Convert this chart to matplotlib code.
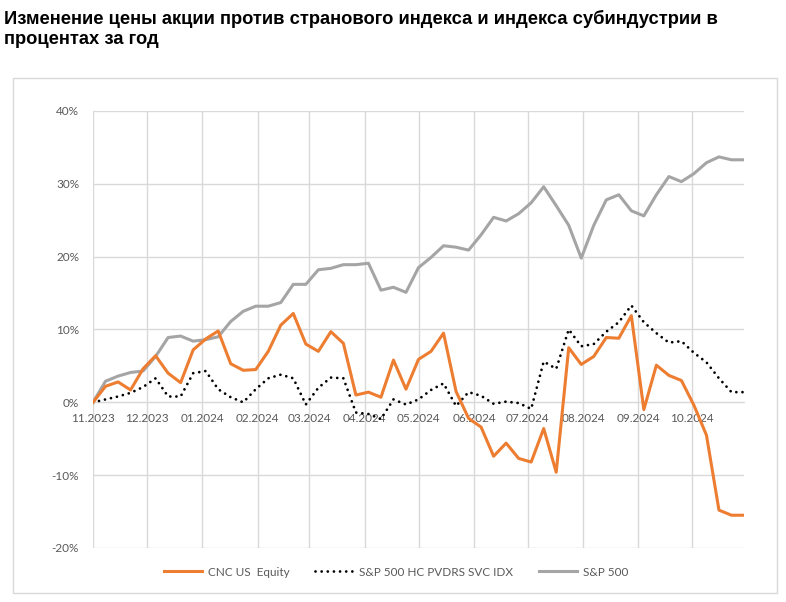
import numpy as np
import pandas as pd
import matplotlib
matplotlib.use("Agg")
import matplotlib.pyplot as plt
import matplotlib.dates as mdates
from matplotlib.patches import Rectangle

# weekly observations, % change since start
dates = pd.date_range("2023-11-01", periods=53, freq="7D")

cnc = [0, 2.2, 2.8, 1.7, 4.6, 6.4, 4.0, 2.7, 7.2, 8.7,
       9.8, 5.3, 4.4, 4.5, 7.0, 10.6, 12.2, 8.0, 7.0, 9.7,
       8.1, 1.0, 1.4, 0.7, 5.8, 1.8, 5.9, 7.0, 9.5, 1.5,
       -2.2, -3.4, -7.4, -5.6, -7.7, -8.2, -3.6, -9.6, 7.5, 5.2,
       6.3, 8.9, 8.8, 11.9, -1.0, 5.1, 3.7, 3.0, -0.4, -4.5,
       -14.8, -15.5, -15.5]

hc_idx = [0, 0.4, 0.8, 1.3, 2.1, 3.3, 0.8, 0.8, 4.0, 4.3,
          1.8, 0.7, 0.0, 1.8, 3.3, 3.8, 3.3, -0.3, 2.0, 3.4,
          3.3, -1.4, -1.6, -2.3, 0.4, -0.3, 0.4, 1.7, 2.6, -0.5,
          1.4, 0.9, -0.2, 0.1, -0.1, -0.9, 5.6, 4.6, 10.0, 7.7,
          8.0, 9.7, 11.0, 13.3, 11.0, 9.5, 8.2, 8.4, 6.8, 5.5,
          3.3, 1.4, 1.4]

spx = [0, 2.9, 3.6, 4.1, 4.3, 6.3, 8.9, 9.1, 8.4, 8.6,
       9.0, 11.1, 12.5, 13.2, 13.2, 13.7, 16.2, 16.2, 18.2, 18.4,
       18.9, 18.9, 19.1, 15.4, 15.8, 15.1, 18.5, 19.9, 21.5, 21.3,
       20.9, 23.0, 25.4, 24.9, 25.9, 27.4, 29.6, 27.0, 24.3, 19.8,
       24.3, 27.8, 28.5, 26.3, 25.6, 28.5, 31.0, 30.3, 31.4, 32.9,
       33.7, 33.3, 33.3]

labels = ["CNC US  Equity", "S&P 500 HC PVDRS SVC IDX", "S&P 500"]
title = ("Изменение цены акции против странового индекса и индекса субиндустрии в\n"
         "процентах за год")

W, H = 786, 602
fig = plt.figure(figsize=(W / 100, H / 100), dpi=100)

# chart frame
fig.patches.append(Rectangle((13 / W, 1 - 593 / H), (777 - 13) / W, (593 - 78) / H,
                             transform=fig.transFigure, fill=False,
                             edgecolor="#d9d9d9", linewidth=1))

fig.text(4 / W, 1 - 10 / H, title, ha="left", va="top",
         fontsize=13.2, fontweight="bold", family="Liberation Sans",
         linespacing=1.2)

ax = fig.add_axes([93 / W, 1 - 548 / H, (744 - 93) / W, (548 - 111) / H])

ax.plot(dates, spx, color="#a5a5a5", lw=2.2, label=labels[2], zorder=3)
ax.plot(dates, hc_idx, color="black", lw=2.0, linestyle=(0, (0.01, 2.2)),
        dash_capstyle="round", label=labels[1], zorder=4)
ax.plot(dates, cnc, color="#ed7d31", lw=2.2, label=labels[0], zorder=5)

ax.set_xlim(dates[0], dates[-1])
ax.set_ylim(-20, 40)
ax.set_yticks(np.arange(-20, 41, 10))
ax.yaxis.set_major_formatter(plt.FuncFormatter(lambda v, p: f"{v:.0f}%"))

ax.xaxis.set_major_locator(mdates.MonthLocator())
ax.xaxis.set_major_formatter(mdates.DateFormatter("%m.%Y"))

ax.grid(True, color="#d9d9d9", lw=1)
ax.set_axisbelow(True)
for s in ["top", "right", "left"]:
    ax.spines[s].set_visible(False)
ax.spines["bottom"].set_position(("data", 0))
ax.spines["bottom"].set_color("#d9d9d9")
ax.tick_params(axis="both", length=0, labelsize=8.5, labelcolor="#595959")
ax.tick_params(axis="x", pad=8)
ax.tick_params(axis="y", pad=10)
for t in ax.get_xticklabels() + ax.get_yticklabels():
    t.set_family("Lato")

h, l = ax.get_legend_handles_labels()
order = [2, 1, 0]
fig.legend([h[i] for i in order], [l[i] for i in order], loc="center",
           bbox_to_anchor=(396 / W, 1 - 572 / H), ncol=3, frameon=False,
           prop={"family": "Lato", "size": 8.5}, labelcolor="#595959",
           handlelength=3.2, columnspacing=2.2, handletextpad=0.5)

fig.savefig("out.png", dpi=100)
